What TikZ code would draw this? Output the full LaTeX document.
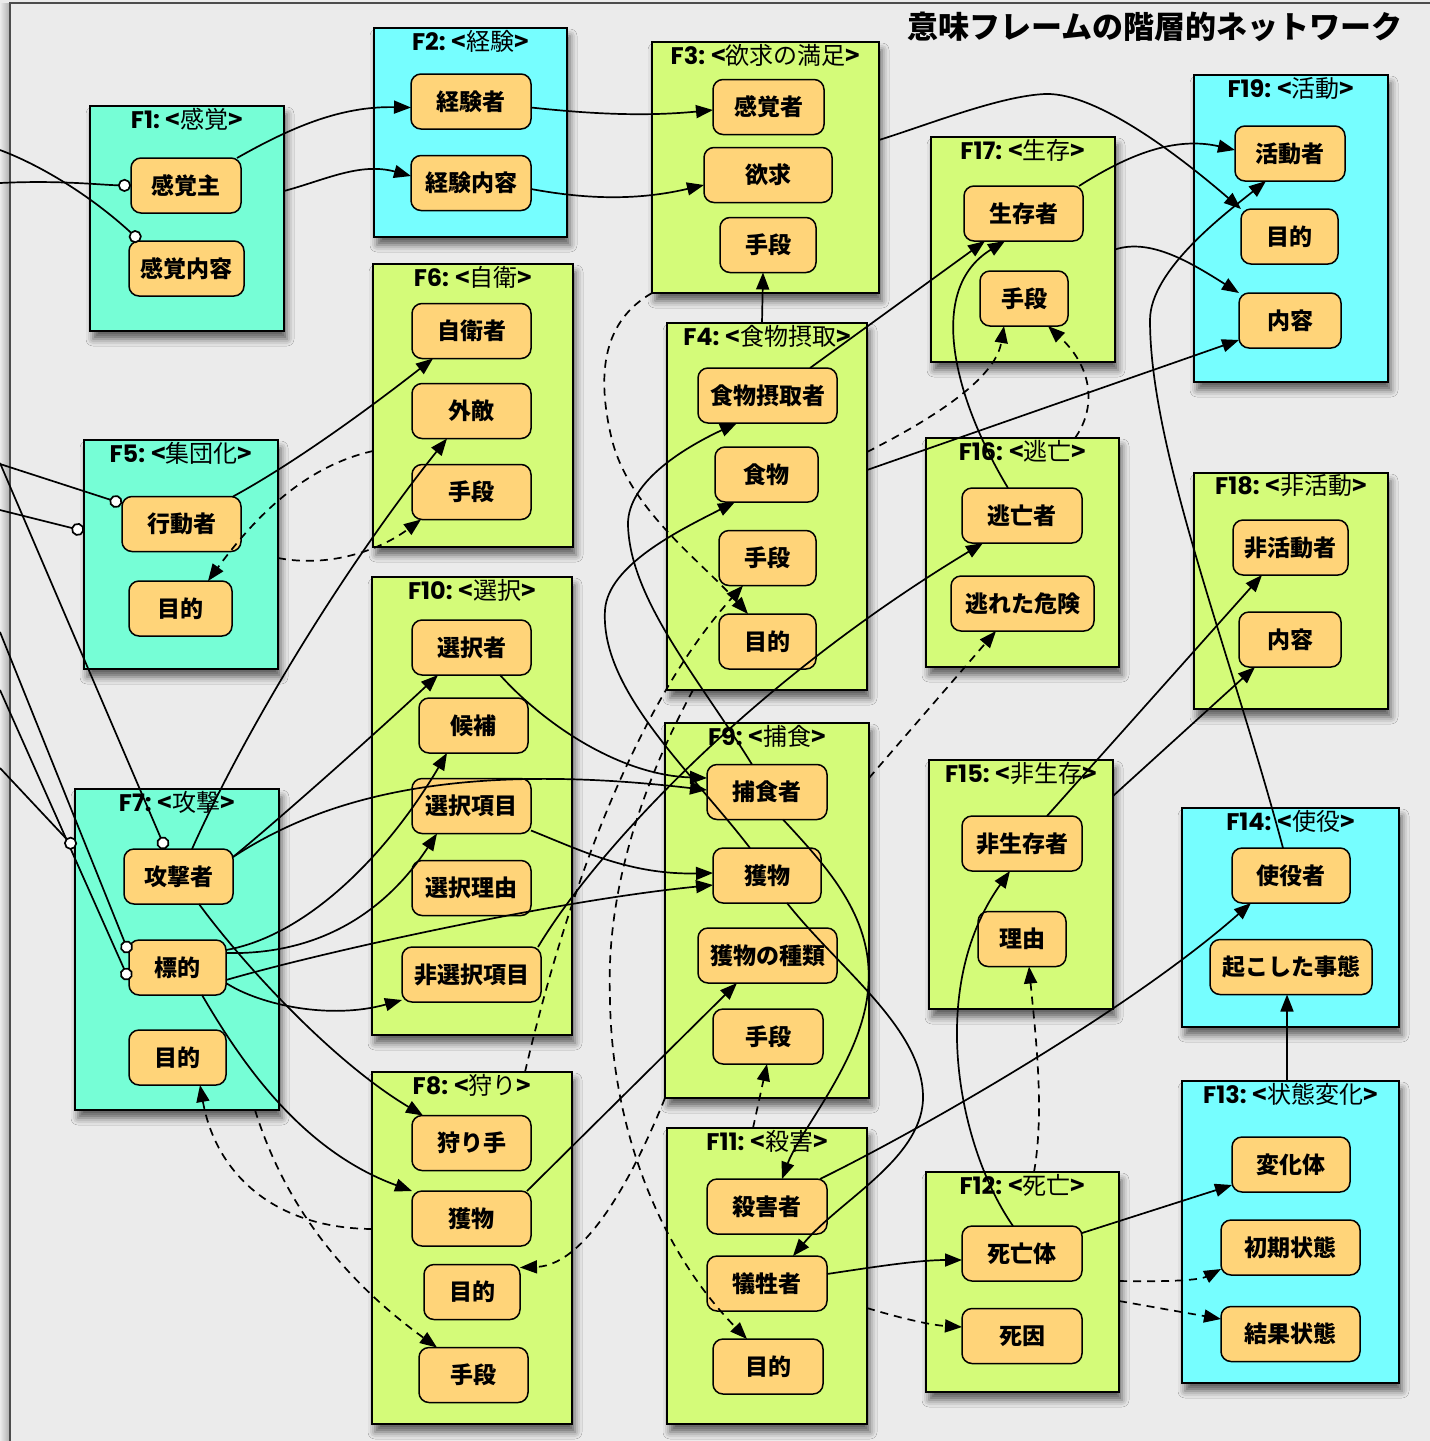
\documentclass[tikz,border=0pt]{standalone}
\usepackage{fontspec}
\setmainfont{Noto Sans CJK JP}
\newfontfamily\latf{Poppins}
\usetikzlibrary{arrows.meta,shadows.blur}
\definecolor{bgc}{HTML}{EBEBEB}
\definecolor{mint}{HTML}{76FED6}
\definecolor{cyanf}{HTML}{76FEFF}
\definecolor{lime}{HTML}{D4FB79}
\definecolor{orng}{HTML}{FFD479}
\tikzset{
 frame/.style={draw=black, line width=2pt, inner sep=0pt, outer sep=0pt,
   blur shadow={shadow xshift=3pt, shadow yshift=-8pt, shadow blur radius=7pt, shadow opacity=60}},
 ftitle/.style={inner sep=0pt, font=\fontsize{24}{26}\selectfont},
 box/.style={draw=black, line width=1.5pt, fill=orng, rounded corners=10pt, inner sep=0pt, outer sep=0pt,
   minimum height=55pt, font=\fontsize{23}{25}\selectfont\bfseries},
 ar/.style={line width=1.7pt, -{Triangle[length=17pt,width=13pt]}},
 dar/.style={ar, dash pattern=on 8pt off 6pt},
 ball/.style={line width=1.7pt, -{Circle[length=13pt,width=13pt,fill=white]}}
}
\newcommand\ftl[2]{{\latf\bfseries #1:}\hspace{6pt}{\bfseries <}#2{\bfseries >}}
\newcommand\frm[8]{%
  \node[frame, fill=#6, minimum width={(#4-#2)*1pt}, minimum height={(#5-#3)*1pt}] (#1) at ({(#2+#4)/2},{(#3+#5)/2}) {};
  \node[ftitle] (#1t) at ({(#2+#4)/2},{#3+13}) {\ftl{#7}{#8}};}
\newcommand\nd[5]{\node[box, minimum width={#4*1pt}] (#1) at (#2,#3) {#5};}
\begin{document}
\begin{tikzpicture}[x=1pt,y=-1pt]
\fill[bgc] (0,0) rectangle (1430,1441);
\useasboundingbox (0,0) rectangle (1430,1441);
\shade[left color=bgc, right color=black!30] (0,3) rectangle (9,1441);
\draw[line width=2pt, black!70] (10,1441) -- (10,3) -- (1430,3);
\node[inner sep=0pt, font=\fontsize{31}{33}\selectfont\bfseries] (title) at (1155,27) {意味フレームの階層的ネットワーク};
% frames
\frm{F1}{90}{106}{284}{331}{mint}{F1}{感覚}
\frm{F2}{374}{28}{567}{237}{cyanf}{F2}{経験}
\frm{F3}{652}{42}{879}{293}{lime}{F3}{欲求の満足}
\frm{F4}{667}{323}{867}{690}{lime}{F4}{食物摂取}
\frm{F5}{84}{440}{278}{669}{mint}{F5}{集団化}
\frm{F6}{373}{264}{573}{547}{lime}{F6}{自衛}
\frm{F7}{75}{789}{279}{1110}{mint}{F7}{攻撃}
\frm{F8}{372}{1072}{572}{1424}{lime}{F8}{狩り}
\frm{F9}{665}{723}{869}{1098}{lime}{F9}{捕食}
\frm{F10}{372}{577}{572}{1035}{lime}{F10}{選択}
\frm{F11}{667}{1128}{867}{1424}{lime}{F11}{殺害}
\frm{F12}{926}{1172}{1119}{1392}{lime}{F12}{死亡}
\frm{F13}{1182}{1081}{1399}{1383}{cyanf}{F13}{状態変化}
\frm{F14}{1182}{808}{1399}{1027}{cyanf}{F14}{使役}
\frm{F15}{929}{760}{1113}{1009}{lime}{F15}{非生存}
\frm{F16}{926}{438}{1119}{667}{lime}{F16}{逃亡}
\frm{F17}{931}{137}{1115}{362}{lime}{F17}{生存}
\frm{F18}{1194}{473}{1388}{709}{lime}{F18}{非活動}
\frm{F19}{1194}{75}{1388}{382}{cyanf}{F19}{活動}
% role nodes
\nd{F1a}{186}{185.5}{110}{感覚主}
\nd{F1b}{186.5}{268.5}{115}{感覚内容}
\nd{F2a}{471}{101.5}{120}{経験者}
\nd{F2b}{471}{183}{120}{経験内容}
\nd{F3a}{768.5}{107}{111}{感覚者}
\nd{F3b}{768}{175}{128}{欲求}
\nd{F3c}{768}{245}{96}{手段}
\nd{F4a}{767.5}{395.5}{139}{食物摂取者}
\nd{F4b}{766.5}{474.5}{103}{食物}
\nd{F4c}{767.5}{558}{97}{手段}
\nd{F4d}{767.5}{641.5}{97}{目的}
\nd{F5a}{181.5}{524}{119}{行動者}
\nd{F5b}{180.5}{608.5}{103}{目的}
\nd{F6a}{471.5}{331}{119}{自衛者}
\nd{F6b}{471.5}{411}{119}{外敵}
\nd{F6c}{471.5}{492}{119}{手段}
\nd{F7a}{178.5}{876.5}{109}{攻撃者}
\nd{F7b}{177.5}{967.5}{97}{標的}
\nd{F7c}{177.5}{1057.5}{97}{目的}
\nd{F8a}{471.5}{1143}{119}{狩り手}
\nd{F8b}{471.5}{1218.5}{119}{獲物}
\nd{F8c}{472}{1292}{96}{目的}
\nd{F8d}{473.5}{1375}{109}{手段}
\nd{F9a}{767}{792}{120}{捕食者}
\nd{F9b}{767}{875.5}{108}{獲物}
\nd{F9c}{767.5}{955.5}{139}{獲物の種類}
\nd{F9d}{768}{1036.5}{110}{手段}
\nd{F10a}{471.5}{647.5}{119}{選択者}
\nd{F10b}{473.5}{725.5}{109}{候補}
\nd{F10c}{471.5}{806}{119}{選択項目}
\nd{F10d}{471.5}{888}{119}{選択理由}
\nd{F10e}{471.5}{974.5}{139}{非選択項目}
\nd{F11a}{767}{1206.5}{120}{殺害者}
\nd{F11b}{767}{1283.5}{120}{犠牲者}
\nd{F11c}{768}{1366.5}{110}{目的}
\nd{F12a}{1022}{1253.5}{120}{死亡体}
\nd{F12b}{1022}{1336}{120}{死因}
\nd{F13a}{1291}{1164.5}{118}{変化体}
\nd{F13b}{1290.5}{1247.5}{139}{初期状態}
\nd{F13c}{1290.5}{1334}{139}{結果状態}
\nd{F14a}{1291}{875.5}{118}{使役者}
\nd{F14b}{1291}{967}{162}{起こした事態}
\nd{F15a}{1022}{843.5}{120}{非生存者}
\nd{F15b}{1022}{939}{88}{理由}
\nd{F16a}{1022}{515.5}{120}{逃亡者}
\nd{F16b}{1022.5}{603.5}{143}{逃れた危険}
\nd{F17a}{1023.5}{213.5}{119}{生存者}
\nd{F17b}{1024}{298.5}{88}{手段}
\nd{F18a}{1290.5}{547.5}{115}{非活動者}
\nd{F18b}{1290}{639.5}{102}{内容}
\nd{F19a}{1290}{153.5}{110}{活動者}
\nd{F19b}{1289.5}{236.5}{97}{目的}
\nd{F19c}{1290}{320.5}{102}{内容}
% free ends at the left edge
\coordinate (L1) at (0,150);
\coordinate (L2) at (0,183);
\coordinate (L3) at (0,464);
\coordinate (L4) at (0,510);
\coordinate (L5) at (0,463);
\coordinate (L6) at (0,632);
\coordinate (L7) at (0,690);
\coordinate (L8) at (0,768);
\draw[ball] (L1) .. controls (40,165) and (90,195) .. ([xshift=11pt]F1b.north west);
\draw[ball] (L2) .. controls (60,180) and (100,185) .. (F1a.west);
\draw[ball] (L3) -- ([yshift=-7pt]F5a.north west);
\draw[ball] (L4) -- ([yshift=23.5pt]F5.west);
\draw[ball] (L5) -- ([xshift=41.5pt]F7a.north west);
\draw[ball] (L6) -- ([yshift=-13pt]F7b.north west);
\draw[ball] (L7) -- ([yshift=-40pt]F7b.north west);
\draw[ball] (L8) -- ([yshift=101.5pt]F7.west);
% F1 - F2 - F3
\draw[ar] ([xshift=-4pt]F1a.north east) .. controls (290,128) and (340,106) .. ([yshift=-6pt]F2a.west);
\draw[ar] ([yshift=27.5pt]F1.east) .. controls (325,180) and (360,162) .. ([yshift=7pt]F2b.west);
\draw[ar] ([yshift=-6pt]F2a.east) .. controls (600,115) and (650,116) .. ([yshift=-3pt]F3a.west);
\draw[ar] ([yshift=-6pt]F2b.east) .. controls (590,200) and (640,200) .. ([yshift=-10pt]F3b.west);
\draw[ar] ([xshift=-5pt]F4.north) -- ([xshift=-5pt]F3c.south);
\draw[ar] ([yshift=27.5pt]F3.east) .. controls (930,124) and (1000,96) .. (1045,94) .. controls (1100,92) and (1190,165) .. (F19b.north west);
% F17 / F19 / F16
\draw[ar] ([xshift=-4pt]F17a.north east) .. controls (1120,160) and (1170,135) .. ([yshift=3.5pt]F19a.west);
\draw[ar] (F17.east) .. controls (1150,238) and (1190,262) .. (F19c.north west);
\draw[ar] ([yshift=36.5pt]F4.east) -- ([yshift=-19.5pt]F19c.west);
\draw[ar] ([xshift=42.5pt]F4a.north) -- ([xshift=21pt]F17a.south west);
\draw[ar] ([xshift=-14pt]F16a.north) .. controls (955,400) and (925,290) .. ([xshift=-18.5pt]F17a.south);
\draw[dar] ([yshift=54.5pt]F4.east) .. controls (930,420) and (995,380) .. ([xshift=-20pt]F17b.south);
\draw[dar] ([xshift=52.5pt]F16.north) .. controls (1095,410) and (1095,370) .. ([xshift=-20pt]F17b.south east);
\draw[dar] ([yshift=132.5pt]F9.east) -- ([xshift=-26.5pt]F16b.south);
% F15 / F18 / F12 / F13 / F14
\draw[dar] ([xshift=11.5pt]F12.north) .. controls (1045,1110) and (1035,1030) .. ([xshift=7pt]F15b.south);
\draw[ar] ([xshift=25pt]F15a.north) -- ([xshift=-28.5pt]F18a.south);
\draw[ar] ([yshift=88.5pt]F15.east) -- ([xshift=16pt]F18b.south west);
\draw[ar] ([xshift=-9pt]F12a.north) .. controls (960,1150) and (925,990) .. ([xshift=-12pt]F15a.south);
\draw[ar] ([yshift=9.5pt]F11b.east) .. controls (880,1266) and (920,1260) .. ([yshift=-6.5pt]F12a.west);
\draw[ar] ([yshift=20.5pt]F12a.east) -- ([yshift=-20.5pt]F13a.west);
\draw[dar] ([yshift=1pt]F12.east) .. controls (1170,1282) and (1200,1280) .. ([yshift=6pt]F13b.south west);
\draw[dar] ([yshift=-19pt]F12.east) -- ([yshift=15pt]F13c.west);
\draw[dar] ([yshift=-32pt]F11.east) .. controls (900,1318) and (930,1325) .. ([yshift=9pt]F12b.west);
\draw[ar] ([xshift=-3.5pt]F13.north) -- ([xshift=-4pt]F14b.south);
\draw[ar] ([xshift=-7pt]F11a.north east) .. controls (920,1130) and (1130,1010) .. ([xshift=19pt]F14a.south west);
\draw[ar] ([xshift=-8pt]F14a.north) .. controls (1230,650) and (1150,450) .. (1150,320) .. controls (1150,270) and (1226,213) .. ([xshift=-24pt]F19a.south);
% F5 / F6 / F7 / F10
\draw[ar] ([xshift=-8pt]F5a.north east) .. controls (300,460) and (380,400) .. ([xshift=21pt]F6a.south west);
\draw[ar] ([xshift=13.5pt]F7a.north) .. controls (250,720) and (350,560) .. ([xshift=35pt]F6b.south west);
\draw[ar] ([yshift=19.5pt]F7a.east) .. controls (290,810) and (390,720) .. ([xshift=26pt]F10a.south west);
\draw[ar] ([yshift=19.5pt]F7a.east) .. controls (320,800) and (450,760) .. ([yshift=2pt]F9a.west);
\draw[ar] ([xshift=-31pt]F10a.south east) .. controls (545,725) and (620,775) .. ([yshift=14pt]F9a.west);
\draw[ar] ([yshift=3pt]F10c.south east) .. controls (580,850) and (630,875) .. ([yshift=2.5pt]F9b.west);
\draw[ar] ([yshift=17.5pt]F7b.east) .. controls (310,935) and (390,850) .. ([xshift=28pt]F10b.south west);
\draw[ar] ([yshift=14.5pt]F7b.east) .. controls (310,955) and (380,920) .. ([xshift=25pt]F10c.south west);
\draw[ar] ([yshift=-12.5pt]F7b.east) .. controls (330,950) and (560,900) .. ([yshift=-9.5pt]F9b.west);
\draw[ar] ([yshift=-15.5pt]F7b.east) .. controls (260,1005) and (330,1020) .. ([yshift=-25.5pt]F10e.west);
\draw[ar] ([xshift=24.5pt]F7b.south) .. controls (240,1060) and (300,1150) .. (F8b.north west);
\draw[ar] ([xshift=20.5pt]F7a.south) .. controls (240,960) and (330,1060) .. ([xshift=11pt]F8a.north west);
\draw[ar] ([xshift=-3pt]F10e.north east) .. controls (590,860) and (740,690) .. ([xshift=21pt]F16a.south west);
\draw[ar] ([xshift=-4pt]F8b.north east) -- ([xshift=39pt]F9c.south west);
% F9 / F4 / F11
\draw[ar] ([xshift=16pt]F9a.south) .. controls (830,870) and (875,920) .. (868,990) .. controls (862,1060) and (800,1130) .. ([xshift=15pt]F11a.north);
\draw[ar] ([xshift=20pt]F9b.south) .. controls (840,970) and (925,1030) .. (923,1100) .. controls (920,1160) and (840,1200) .. ([xshift=26pt]F11b.north);
\draw[ar] ([xshift=-15pt]F9a.north) .. controls (700,680) and (630,600) .. (628,525) .. controls (627,480) and (690,445) .. ([xshift=39pt]F4a.south west);
\draw[ar] ([xshift=-17pt]F9b.north) .. controls (690,770) and (600,690) .. (605,610) .. controls (608,565) and (680,530) .. ([xshift=20pt]F4b.south west);
% dashed
\draw[dar] ([xshift=-74pt]F4.south) .. controls (650,770) and (605,880) .. (610,1000) .. controls (612,1130) and (660,1250) .. ([xshift=34pt]F11c.north west);
\draw[dar] ([xshift=53pt]F8.north) .. controls (570,880) and (640,700) .. ([xshift=24pt]F4c.south west);
\draw[dar] (F3.south west) .. controls (605,320) and (595,370) .. (612,440) .. controls (630,510) and (700,560) .. ([xshift=29pt]F4d.north west);
\draw[dar] (F9.south west) .. controls (640,1160) and (590,1265) .. ([yshift=-3pt]F8c.north east);
\draw[dar] ([xshift=-14pt]F11.north) -- ([xshift=-1pt]F9d.south);
\draw[dar] ([yshift=-3.5pt]F5.east) .. controls (330,568) and (380,550) .. ([xshift=9pt]F6c.south west);
\draw[dar] ([yshift=-45.5pt]F6.west) .. controls (310,465) and (260,510) .. ([xshift=27.5pt]F5b.north);
\draw[dar] ([xshift=78pt]F7.south) .. controls (280,1190) and (330,1270) .. ([xshift=18pt]F8d.north west);
\draw[dar] ([yshift=19pt]F8.west) .. controls (270,1228) and (215,1170) .. ([xshift=22.5pt]F7c.south);
\end{tikzpicture}
\end{document}
